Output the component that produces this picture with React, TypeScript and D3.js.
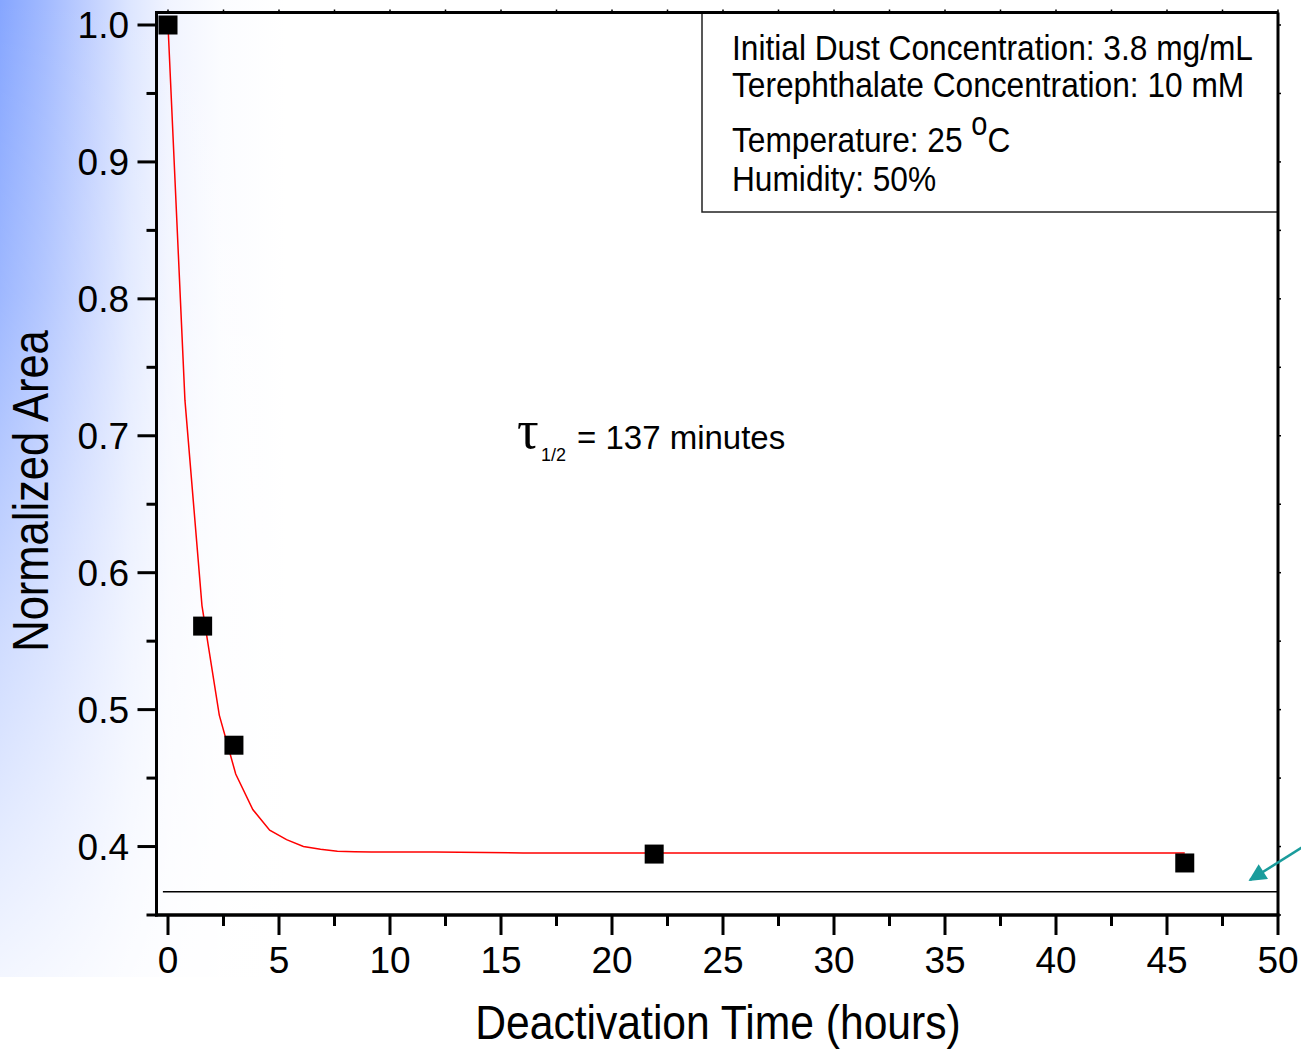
import React from 'react';
import * as d3 from 'd3';

// ---- data ----
const timeHours = [0, 1.56, 2.97, 21.9, 45.8];
const normArea = [1.0, 0.561, 0.474, 0.3945, 0.388];

const fitTime = [0, 0.763, 1.53, 2.31, 3.05, 3.82, 4.58, 5.34, 6.1, 6.87, 7.63, 8.4, 9.16, 12, 16, 45.8];
const fitArea = [1.0, 0.726, 0.576, 0.496, 0.453, 0.427, 0.412, 0.405, 0.4, 0.398, 0.3966, 0.3962, 0.396, 0.396, 0.3953, 0.3952];

const baselineRange = [-0.23, 50];
const baselineValue = 0.367;

const xMajorTicks = [0, 5, 10, 15, 20, 25, 30, 35, 40, 45, 50];
const xMinorTicks = [2.5, 7.5, 12.5, 17.5, 22.5, 27.5, 32.5, 37.5, 42.5, 47.5];
const yMajorTicks = [0.4, 0.5, 0.6, 0.7, 0.8, 0.9, 1.0];
const yMinorTicks = [0.35, 0.45, 0.55, 0.65, 0.75, 0.85, 0.95];

const infoLines = [
  'Initial Dust Concentration: 3.8 mg/mL',
  'Terephthalate Concentration: 10 mM',
];
const tempLabel = 'Temperature: 25 ';
const humidityLabel = 'Humidity: 50%';
const tauLabel = '= 137 minutes';

const xTitle = 'Deactivation Time (hours)';
const yTitle = 'Normalized Area';

const W = 1301;
const H = 1051;
const FONT = '"Liberation Sans", Arial, sans-serif';

export default function App() {
  const x = d3.scaleLinear().domain([0, 50]).range([168, 1278]);
  const y = d3.scaleLinear().domain([0.35, 1.0]).range([915, 25]);

  const left = 156.5;
  const right = 1278;
  const top = 12.5;
  const bottom = 915;

  const fitLine = d3
    .line<number>()
    .x((_, i) => x(fitTime[i]))
    .y((d) => y(d))(fitArea) as string;

  const fmtY = d3.format('.1f');

  return (
    <svg
      width={W}
      height={H}
      style={{ position: 'absolute', left: 0, top: 0, display: 'block', background: '#fff' }}
    >
      <defs>
        <linearGradient id="bgH" x1="0" y1="0" x2="1" y2="0">
          <stop offset="0" stopColor="#86a6ff" />
          <stop offset="0.035" stopColor="#a2baff" />
          <stop offset="0.07" stopColor="#c2d1ff" />
          <stop offset="0.1" stopColor="#dde6ff" />
          <stop offset="0.13" stopColor="#f1f4ff" />
          <stop offset="0.17" stopColor="#fbfcff" />
          <stop offset="0.22" stopColor="#ffffff" />
          <stop offset="1" stopColor="#ffffff" />
        </linearGradient>
        <linearGradient id="bgV" x1="0" y1="0" x2="0" y2="1">
          <stop offset="0" stopColor="#ffffff" stopOpacity="0" />
          <stop offset="0.3" stopColor="#ffffff" stopOpacity="0.2" />
          <stop offset="0.65" stopColor="#ffffff" stopOpacity="0.6" />
          <stop offset="1" stopColor="#ffffff" stopOpacity="0.9" />
        </linearGradient>
        <marker
          id="arrowHead"
          viewBox="0 0 10 10"
          refX="9"
          refY="5"
          markerWidth="8"
          markerHeight="7"
          markerUnits="strokeWidth"
          orient="auto"
        >
          <path d="M0,0 L10,5 L0,10 z" fill="#1a9c9c" />
        </marker>
      </defs>

      {/* background */}
      <rect x={0} y={0} width={W} height={977} fill="url(#bgH)" />
      <rect x={0} y={0} width={W} height={977} fill="url(#bgV)" />

      {/* baseline */}
      <line
        x1={x(baselineRange[0])}
        x2={x(baselineRange[1])}
        y1={y(baselineValue)}
        y2={y(baselineValue)}
        stroke="#000"
        strokeWidth={1.5}
      />

      {/* fit curve */}
      <path d={fitLine} fill="none" stroke="#ff0000" strokeWidth={1.5} />

      {/* data squares */}
      {timeHours.map((t, i) => (
        <rect
          key={i}
          x={x(t) - 9.5}
          y={y(normArea[i]) - 9.5}
          width={19}
          height={19}
          fill="#000"
        />
      ))}

      {/* legend box */}
      <rect x={702} y={top} width={right - 702} height={212 - top} fill="none" stroke="#222" strokeWidth={1.5} />
      <g fontFamily={FONT} fontSize={36} fill="#000">
        {infoLines.map((s, i) => (
          <text key={i} transform={`translate(732,${60 + i * 37}) scale(0.88,1)`}>{s}</text>
        ))}
        <text transform={`translate(732,152) scale(0.88,1)`}>
          {tempLabel}
          <tspan dy={-17} fontSize={33}>o</tspan>
          <tspan dy={17} fontSize={36}>C</tspan>
        </text>
        <text transform={`translate(732,191) scale(0.88,1)`}>{humidityLabel}</text>
      </g>

      {/* tau annotation */}
      <g fill="#000">
        <text x={517} y={448} fontFamily='"Liberation Serif", "DejaVu Serif", serif' fontSize={54}>τ</text>
        <text x={541} y={461} fontFamily={FONT} fontSize={18}>1/2</text>
        <text x={577} y={449} fontFamily={FONT} fontSize={33}>{tauLabel}</text>
      </g>

      {/* frame */}
      <line x1={left} x2={right} y1={top} y2={top} stroke="#000" strokeWidth={3} />
      <line x1={right} x2={right} y1={top} y2={bottom} stroke="#000" strokeWidth={3} />
      <line x1={left} x2={left} y1={top - 1.5} y2={bottom + 1.5} stroke="#000" strokeWidth={3} />
      <line x1={left - 1.5} x2={right + 1.5} y1={bottom} y2={bottom} stroke="#000" strokeWidth={3.5} />

      {/* top & right mini ticks */}
      {[...xMajorTicks, ...xMinorTicks].map((t) => (
        <line key={'tt' + t} x1={x(t)} x2={x(t)} y1={top - 3} y2={top} stroke="#000" strokeWidth={1.5} />
      ))}
      {[...yMajorTicks, ...yMinorTicks].map((v) => (
        <line key={'rt' + v} x1={right} x2={right + 3} y1={y(v)} y2={y(v)} stroke="#000" strokeWidth={1.5} />
      ))}

      {/* x axis ticks */}
      {xMajorTicks.map((t) => (
        <line key={'xm' + t} x1={x(t)} x2={x(t)} y1={bottom} y2={bottom + 20} stroke="#000" strokeWidth={3} />
      ))}
      {xMinorTicks.map((t) => (
        <line key={'xn' + t} x1={x(t)} x2={x(t)} y1={bottom} y2={bottom + 11} stroke="#000" strokeWidth={3} />
      ))}
      <g fontFamily={FONT} fontSize={37} fill="#000" textAnchor="middle">
        {xMajorTicks.map((t) => (
          <text key={'xl' + t} x={x(t)} y={973}>{t}</text>
        ))}
      </g>

      {/* y axis ticks */}
      {yMajorTicks.map((v) => (
        <line key={'ym' + v} x1={left - 19} x2={left} y1={y(v)} y2={y(v)} stroke="#000" strokeWidth={3} />
      ))}
      {yMinorTicks.map((v) => (
        <line key={'yn' + v} x1={left - 10} x2={left} y1={y(v)} y2={y(v)} stroke="#000" strokeWidth={3} />
      ))}
      <g fontFamily={FONT} fontSize={37} fill="#000" textAnchor="end">
        {yMajorTicks.map((v) => (
          <text key={'yl' + v} x={129} y={y(v) + 13}>{fmtY(v)}</text>
        ))}
      </g>

      {/* axis titles */}
      <text
        transform={`translate(718,1039) scale(0.87,1)`}
        textAnchor="middle"
        fontFamily={FONT}
        fontSize={49}
        fill="#000"
      >
        {xTitle}
      </text>
      <text
        transform={`translate(48,491) rotate(-90) scale(0.87,1)`}
        textAnchor="middle"
        fontFamily={FONT}
        fontSize={50}
        fill="#000"
      >
        {yTitle}
      </text>

      {/* teal arrow */}
      <line
        x1={1312}
        y1={841}
        x2={1250}
        y2={880}
        stroke="#1a9c9c"
        strokeWidth={2.5}
        markerEnd="url(#arrowHead)"
      />
    </svg>
  );
}
